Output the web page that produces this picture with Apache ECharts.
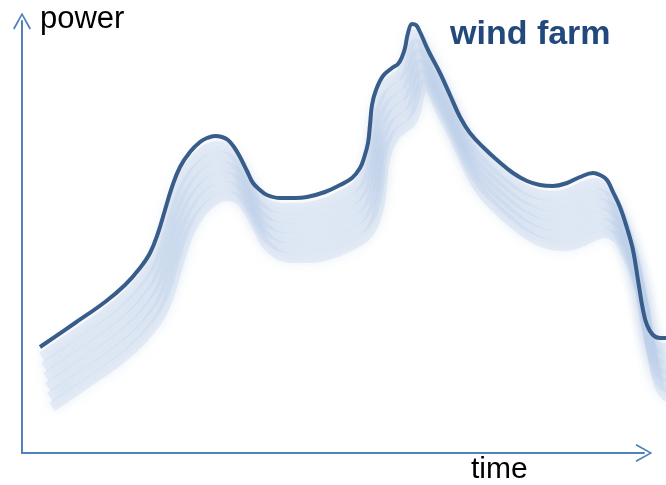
<!DOCTYPE html>
<html>
  <head>
    <meta charset="UTF-8" />
    <script src="https://cdn.jsdelivr.net/npm/echarts@6/dist/echarts.min.js"></script>
    <style>
      html, body { margin: 0; padding: 0; background: #fff; }
    </style>
  </head>
  <body>
    <div id="main"></div>
    <script>
      const width = 666;
      const height = 485;
      const main = document.getElementById('main');
      main.style.width = `${width}px`;
      main.style.height = `${height}px`;

      // wind farm output over time (arbitrary units)
      const times = [18, 53, 83, 103, 118, 128, 136, 143, 150, 158, 168, 178, 185, 193, 200, 206,
        212, 218, 225, 231, 238, 245, 258, 273, 285, 303, 318, 330, 338, 342, 346, 348, 350, 354,
        361, 370, 376, 380, 383, 386, 390, 394, 398, 406, 418, 428, 438, 448, 461, 475, 491, 505,
        518, 531, 545, 558, 571, 578, 585, 591, 598, 605, 611, 616, 621, 625, 631, 638, 644];
      const power = [106, 130, 151, 168, 185, 200, 220, 243, 266, 286, 301, 311, 315, 317, 316, 313,
        306, 296, 282, 270, 263, 258, 255, 255, 256, 261, 268, 275, 285, 295, 310, 328, 348, 363,
        377, 385, 389, 396, 405, 420, 429, 428, 421, 403, 380, 358, 336, 320, 306, 293, 280, 272,
        268, 267, 270, 276, 280, 278, 273, 261, 246, 225, 203, 173, 143, 128, 118, 115, 115];
      const shadowCount = 6;

      const points = times.map((t, i) => [t, power[i]]);
      const axisColor = '#4f81bd';
      const chevron = 'path://M0,16 L9,0 L18,16 L16.4,16.9 L9,3.2 L1.6,16.9 Z';

      const grids = [{ left: 22, top: 21, right: 22, bottom: 32, outerBoundsMode: 'none' }];
      const xAxes = [{
        gridIndex: 0, type: 'value', min: 0, max: 1,
        axisLine: { lineStyle: { color: axisColor, width: 2 }, symbol: ['none', chevron], symbolSize: [18, 17] },
        axisTick: { show: false }, axisLabel: { show: false }, splitLine: { show: false },
      }];
      const yAxes = [{
        gridIndex: 0, type: 'value', min: 0, max: 1,
        axisLine: { lineStyle: { color: axisColor, width: 2 }, symbol: ['none', chevron], symbolSize: [18, 17] },
        axisTick: { show: false }, axisLabel: { show: false }, splitLine: { show: false },
      }];
      const series = [];

      // faded copies of the curve, each one drawn in its own grid shifted down/right
      for (let k = shadowCount; k >= 0; k--) {
        const g = grids.length;
        grids.push({ left: 22 + 2 * k, top: 15 + 10 * k, width: 644, height: 438, outerBoundsMode: 'none' });
        xAxes.push({ gridIndex: g, type: 'value', min: 0, max: 644, show: false });
        yAxes.push({ gridIndex: g, type: 'value', min: 0, max: 438, show: false });
        const isMain = k === 0;
        series.push({
          type: 'line',
          xAxisIndex: g,
          yAxisIndex: g,
          data: points,
          smooth: 0.4,
          showSymbol: false,
          silent: true,
          z: isMain ? 10 : 2,
          lineStyle: isMain
            ? { color: '#385d8a', width: 4 }
            : {
                color: 'rgba(190, 208, 232, 0.32)',
                width: 10,
                shadowBlur: 12,
                shadowColor: 'rgba(180, 200, 228, 0.8)',
              },
        });
      }

      const myChart = echarts.init(main);
      myChart.setOption({
        animation: false,
        grid: grids,
        xAxis: xAxes,
        yAxis: yAxes,
        series: series,
        graphic: [
          {
            type: 'text', left: 40, top: 4,
            style: { text: 'power', fill: '#000', font: '31px "Liberation Sans", Arial, sans-serif' },
          },
          {
            type: 'text', left: 471, top: 455,
            style: { text: 'time', fill: '#000', font: '30px "Liberation Sans", Arial, sans-serif' },
          },
          {
            type: 'text', left: 450, top: 18,
            style: { text: 'wind farm', fill: '#23497c', font: 'bold 34px "Liberation Sans", Arial, sans-serif' },
          },
        ],
      });
    </script>
  </body>
</html>
